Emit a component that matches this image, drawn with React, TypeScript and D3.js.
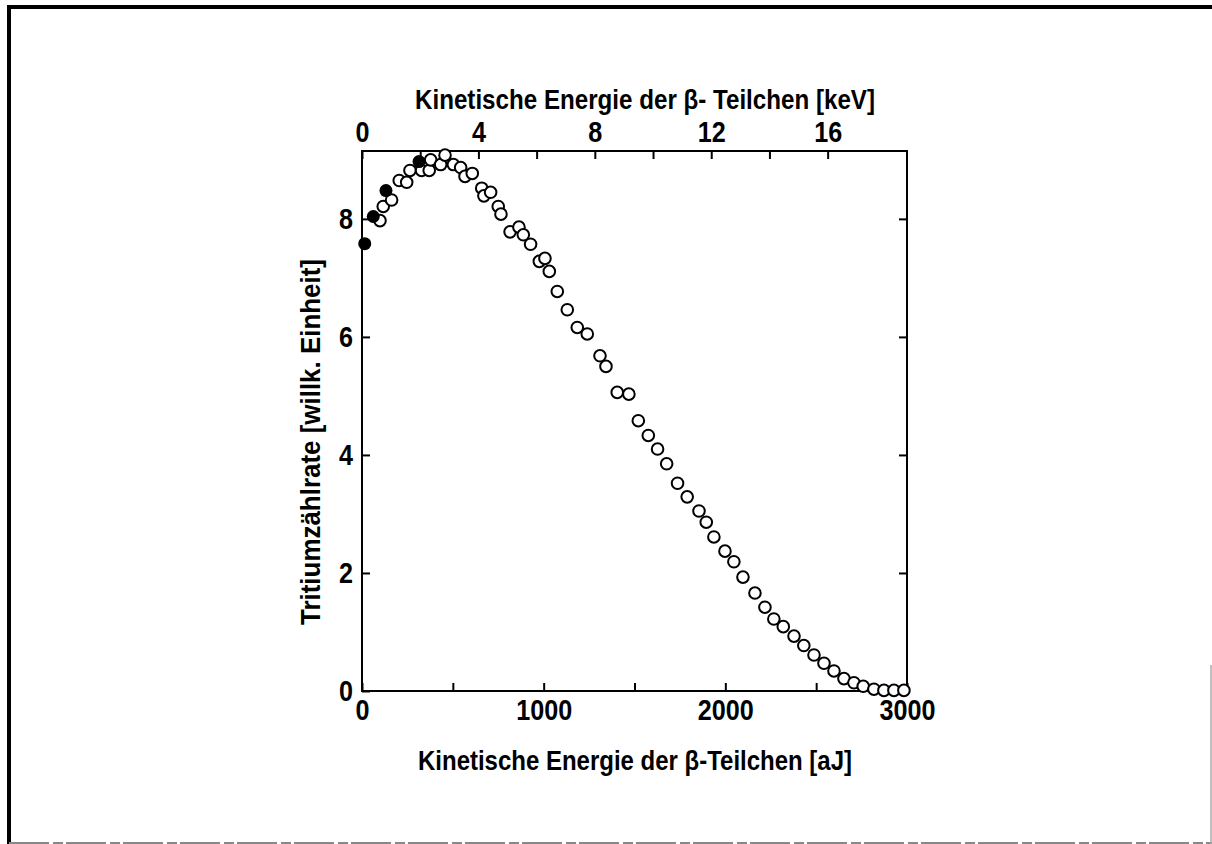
import React, { useEffect, useRef } from 'react';
import * as d3 from 'd3';

// measured points, energy in aJ, count rate in arbitrary units
const filledEnergy = [15, 62, 132, 314];
const filledRate = [7.58, 8.04, 8.48, 8.97];

const openEnergy = [
  99, 117, 163, 205, 246, 264, 328, 370, 378, 433, 457, 503, 543, 567, 607, 659, 671, 708, 750, 765,
  815, 864, 888, 928, 976, 1007, 1031, 1075, 1130, 1185, 1240, 1310, 1343, 1405, 1469, 1521, 1576,
  1627, 1677, 1737, 1790, 1855, 1895, 1937, 1998, 2047, 2097, 2163, 2218, 2267, 2319, 2378, 2432,
  2488, 2543, 2598, 2653, 2708, 2759, 2818, 2873, 2928, 2983,
];
const openRate = [
  7.97, 8.21, 8.32, 8.65, 8.62, 8.82, 8.82, 8.82, 9.0, 8.92, 9.08, 8.92, 8.87, 8.72, 8.77, 8.52, 8.39,
  8.45, 8.21, 8.08, 7.78, 7.86, 7.73, 7.57, 7.28, 7.33, 7.11, 6.77, 6.46, 6.16, 6.05, 5.68, 5.5, 5.06,
  5.03, 4.58, 4.33, 4.1, 3.85, 3.52, 3.29, 3.05, 2.86, 2.61, 2.37, 2.19, 1.93, 1.66, 1.42, 1.22, 1.09,
  0.93, 0.77, 0.61, 0.47, 0.34, 0.21, 0.14, 0.08, 0.03, 0.01, 0.01, 0.01,
];

const bottomTicks = [0, 500, 1000, 1500, 2000, 2500, 3000];
const bottomLabels = [0, 1000, 2000, 3000];
const topTicks = [0, 2, 4, 6, 8, 10, 12, 14, 16];
const topLabels = [0, 4, 8, 12, 16];
const yTicks = [0, 2, 4, 6, 8];

const AJ_PER_KEV = 0.1602 * 1000;
const FONT = "'Liberation Sans', Arial, sans-serif";

const App = () => {
  const svgRef = useRef<SVGSVGElement | null>(null);

  useEffect(() => {
    if (!svgRef.current) return;
    document.body.style.margin = '0';
    const svg = d3.select(svgRef.current);
    svg.selectAll('*').remove();

    const left = 362, right = 907, top = 151, bottom = 691;

    const x = d3.scaleLinear().domain([0, 3000]).range([left, right]);
    const xKeV = d3.scaleLinear().domain([0, 3000 / AJ_PER_KEV]).range([left, right]);
    const y = d3.scaleLinear().domain([0, 9.15]).range([bottom, top]);

    // page frame
    svg.append('line').attr('x1', 9).attr('x2', 9).attr('y1', 5).attr('y2', 844)
      .attr('stroke', '#000').attr('stroke-width', 4);
    svg.append('line').attr('x1', 7).attr('x2', 1212).attr('y1', 7).attr('y2', 7)
      .attr('stroke', '#000').attr('stroke-width', 4);
    svg.append('line').attr('x1', 9).attr('x2', 1212).attr('y1', 843).attr('y2', 843)
      .attr('stroke', '#888').attr('stroke-width', 2).attr('stroke-dasharray', '40,4,10,3');
    svg.append('line').attr('x1', 1211).attr('x2', 1211).attr('y1', 665).attr('y2', 844)
      .attr('stroke', '#aaa').attr('stroke-width', 1.5);

    // plot frame
    svg.append('rect')
      .attr('x', left).attr('y', top)
      .attr('width', right - left).attr('height', bottom - top)
      .attr('fill', 'none').attr('stroke', '#000').attr('stroke-width', 2);

    // condensed bold look: squeeze each label to ~14px per glyph
    const styleAxis = (g: any) => {
      g.select('.domain').remove();
      g.selectAll('line').attr('stroke', '#000').attr('stroke-width', 2);
      g.selectAll('text')
        .attr('fill', '#000')
        .style('font-family', FONT)
        .style('font-weight', 'bold')
        .style('font-size', '30px')
        .each(function (this: SVGTextElement) {
          const s = this.textContent || '';
          if (s.length) {
            d3.select(this).attr('textLength', s.length * 14).attr('lengthAdjust', 'spacingAndGlyphs');
          }
        });
    };

    const fmtIf = (list: number[]) => (d: any) => (list.includes(+d) ? String(d) : '');

    svg.append('g')
      .attr('transform', `translate(0,${bottom})`)
      .call(d3.axisBottom(x).tickValues(bottomTicks).tickSize(-8).tickPadding(8).tickFormat(fmtIf(bottomLabels)))
      .call(styleAxis);

    svg.append('g')
      .attr('transform', `translate(0,${top})`)
      .call(d3.axisTop(xKeV).tickValues(topTicks).tickSize(-8).tickPadding(9).tickFormat(fmtIf(topLabels)))
      .call(styleAxis);

    svg.append('g')
      .attr('transform', `translate(${left},0)`)
      .call(d3.axisLeft(y).tickValues(yTicks).tickSize(-8).tickPadding(9))
      .call(styleAxis);

    svg.append('g')
      .attr('transform', `translate(${right},0)`)
      .call(d3.axisRight(y).tickValues(yTicks.slice(1)).tickSize(-8).tickFormat(() => ''))
      .call(styleAxis);

    const titleStyle = (t: any) => t
      .attr('fill', '#000')
      .style('font-family', FONT)
      .style('font-weight', 'bold')
      .style('font-size', '28px');

    svg.append('text')
      .attr('x', 645).attr('y', 109)
      .attr('text-anchor', 'middle')
      .attr('textLength', 460).attr('lengthAdjust', 'spacingAndGlyphs')
      .call(titleStyle)
      .text('Kinetische Energie der β- Teilchen  [keV]');

    svg.append('text')
      .attr('x', 635).attr('y', 770)
      .attr('text-anchor', 'middle')
      .attr('textLength', 434).attr('lengthAdjust', 'spacingAndGlyphs')
      .call(titleStyle)
      .text('Kinetische Energie der β-Teilchen [aJ]');

    svg.append('text')
      .attr('transform', `translate(320,442) rotate(-90)`)
      .attr('text-anchor', 'middle')
      .attr('textLength', 366).attr('lengthAdjust', 'spacingAndGlyphs')
      .call(titleStyle)
      .text('Tritiumzählrate [willk. Einheit]');

    const openData = openEnergy.map((e, i) => ({ e, v: openRate[i] }));
    const filledData = filledEnergy.map((e, i) => ({ e, v: filledRate[i] }));

    svg.append('g')
      .selectAll('circle')
      .data(openData)
      .enter()
      .append('circle')
      .attr('cx', d => x(d.e))
      .attr('cy', d => y(d.v))
      .attr('r', 5.8)
      .attr('fill', '#fff')
      .attr('stroke', '#000')
      .attr('stroke-width', 2);

    svg.append('g')
      .selectAll('circle')
      .data(filledData)
      .enter()
      .append('circle')
      .attr('cx', d => x(d.e))
      .attr('cy', d => y(d.v))
      .attr('r', 6.5)
      .attr('fill', '#000');
  }, []);

  return (
    <svg ref={svgRef} width={1212} height={844}
      style={{ display: 'block', background: '#fff' }} />
  );
};

export default App;
